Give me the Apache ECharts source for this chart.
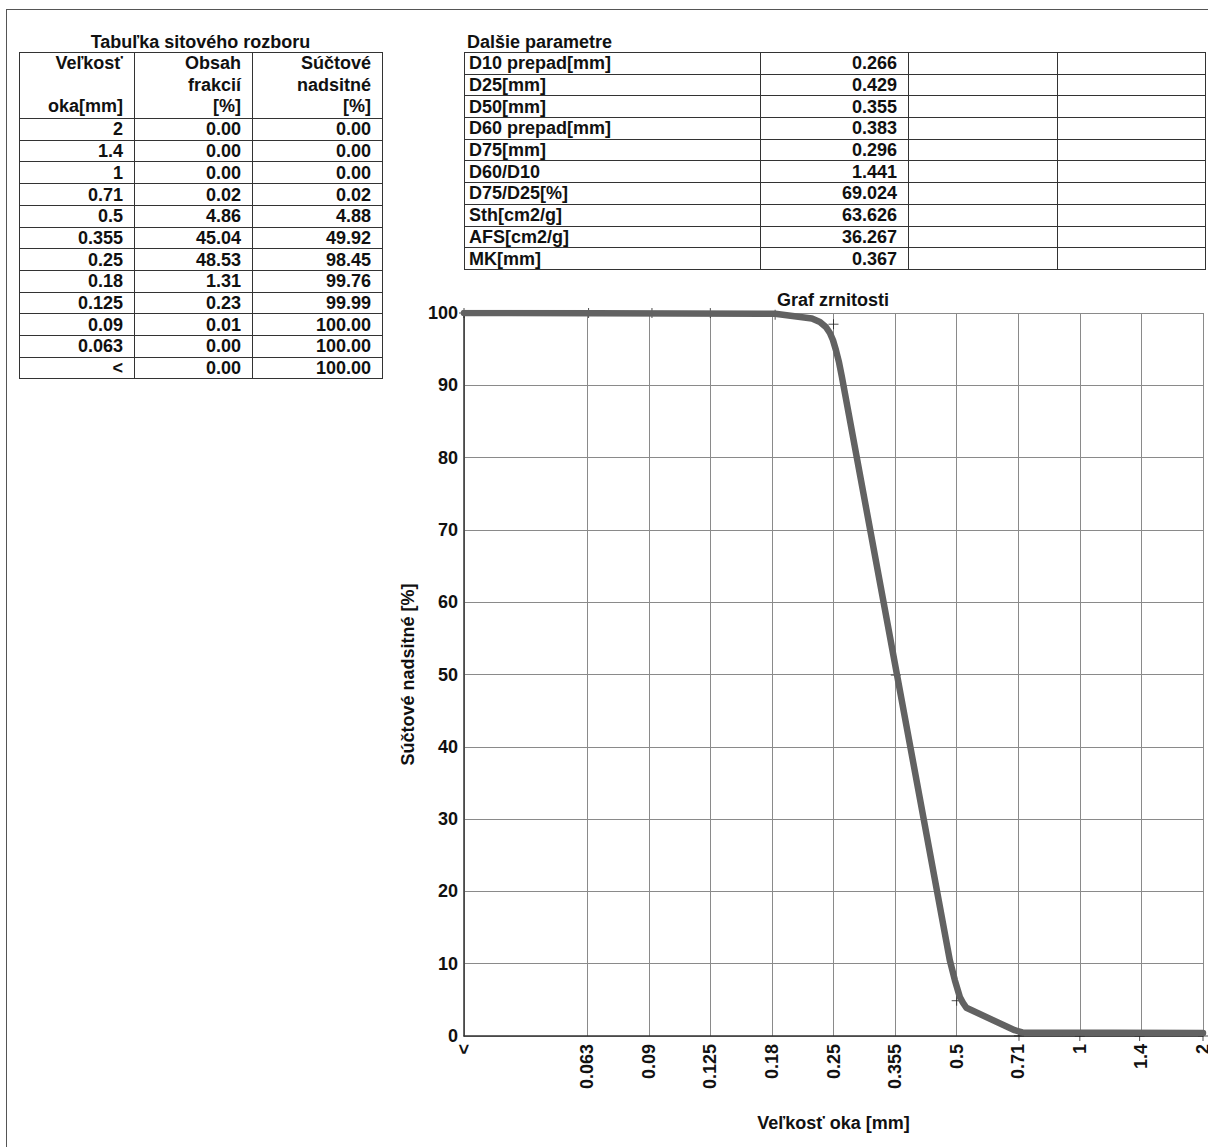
<!DOCTYPE html>
<html>
<head>
<meta charset="utf-8">
<script src="https://cdn.jsdelivr.net/npm/echarts@6/dist/echarts.min.js"></script>
<style>
html,body{margin:0;padding:0;background:#fff;}
#page{position:relative;width:1208px;height:1147px;overflow:hidden;font-family:"Liberation Sans",Arial,sans-serif;font-weight:bold;color:#111;}
#chart{position:absolute;left:0;top:0;width:1208px;height:1147px;}
.frame{position:absolute;left:6px;top:9px;width:1210px;height:1150px;border-top:1.5px solid #555;border-left:1.5px solid #555;}
.ttl{position:absolute;font-size:18px;line-height:20px;white-space:nowrap;}
table{position:absolute;border-collapse:collapse;font-size:18px;table-layout:fixed;}
td{border:1px solid #333;height:20.7px;padding:0;line-height:20px;white-space:nowrap;overflow:hidden;}
td.r{text-align:right;padding-right:11px;}
td.l{text-align:left;padding-left:4px;}
td.h{line-height:21.7px;vertical-align:top;}
</style>
</head>
<body>
<div id="page">
  <div class="frame"></div>
  <div id="chart"></div>
  <div class="ttl" id="t1" style="left:19px;top:32px;width:363px;text-align:center;"></div>
  <table id="sieveTable" style="left:19px;top:52px;width:363px;"></table>
  <div class="ttl" id="t2" style="left:467px;top:32px;"></div>
  <table id="paramTable" style="left:464px;top:52px;width:741px;"></table>
</div>
<script>
// ---------- data ----------
const sieveTitle = 'Tabuľka sitového rozboru';
const sieveHeader = [['Veľkosť', '', 'oka[mm]'], ['Obsah', 'frakcií', '[%]'], ['Súčtové', 'nadsitné', '[%]']];
const sieveLabels = ['2', '1.4', '1', '0.71', '0.5', '0.355', '0.25', '0.18', '0.125', '0.09', '0.063', '<'];
const fractionPct = [0.00, 0.00, 0.00, 0.02, 4.86, 45.04, 48.53, 1.31, 0.23, 0.01, 0.00, 0.00];
const cumulativePct = [0.00, 0.00, 0.00, 0.02, 4.88, 49.92, 98.45, 99.76, 99.99, 100.00, 100.00, 100.00];
// plotted mesh size (mm) of each row; the pan "<" sits at the left end of the axis
const sievePlotMm = [2, 1.4, 1, 0.71, 0.5, 0.355, 0.25, 0.18, 0.125, 0.09, 0.063, 0.03125];

const paramTitle = 'Dalšie parametre';
const paramNames = ['D10 prepad[mm]', 'D25[mm]', 'D50[mm]', 'D60 prepad[mm]', 'D75[mm]', 'D60/D10', 'D75/D25[%]', 'Sth[cm2/g]', 'AFS[cm2/g]', 'MK[mm]'];
const paramValues = ['0.266', '0.429', '0.355', '0.383', '0.296', '1.441', '69.024', '63.626', '36.267', '0.367'];

// x-axis tick labels (one slot left blank between "<" and 0.063)
const tickLabels = ['<', '', '0.063', '0.09', '0.125', '0.18', '0.25', '0.355', '0.5', '0.71', '1', '1.4', '2'];
const axisMinMm = 0.03125, axisMaxMm = 2;

// grading curve as drawn in the picture (mm, %)
const curveMm  = [0.03125, 0.18, 0.2214, 0.2316, 0.2395, 0.2450, 0.2492, 0.2534, 0.2578, 0.2621, 0.481, 0.495, 0.509, 0.518, 0.528, 0.693, 0.724, 2];
const curvePct = [100, 99.9, 99.24, 98.76, 98.06, 97.23, 96.27, 94.88, 93.22, 91.15, 10.5, 7.7, 5.4, 4.6, 3.9, 0.8, 0.5, 0.4];

const chartTitle = 'Graf zrnitosti';
const xName = 'Veľkosť oka [mm]';
const yName = 'Súčtové nadsitné [%]';

// ---------- tables ----------
document.getElementById('t1').textContent = sieveTitle;
document.getElementById('t2').textContent = paramTitle;

const st = document.getElementById('sieveTable');
const colW = [115, 118, 130];
let html = '<colgroup>' + colW.map(w => '<col style="width:' + w + 'px">').join('') + '</colgroup>';
html += '<tr>' + sieveHeader.map(lines => '<td class="r h" style="height:64px">' + lines.map(s => s || '&nbsp;').join('<br>') + '</td>').join('') + '</tr>';
sieveLabels.forEach((lab, i) => {
  html += '<tr><td class="r">' + (lab === '<' ? '&lt;' : lab) + '</td><td class="r">' + fractionPct[i].toFixed(2) + '</td><td class="r">' + cumulativePct[i].toFixed(2) + '</td></tr>';
});
st.innerHTML = html;

const pt = document.getElementById('paramTable');
const pW = [296, 148, 149, 148];
let ph = '<colgroup>' + pW.map(w => '<col style="width:' + w + 'px">').join('') + '</colgroup>';
paramNames.forEach((n, i) => {
  ph += '<tr><td class="l">' + n + '</td><td class="r">' + paramValues[i] + '</td><td></td><td></td></tr>';
});
pt.innerHTML = ph;

// ---------- chart ----------
const FONT = "'Liberation Sans', Arial, sans-serif";
const txt = {fontFamily: FONT, fontWeight: 'bold', fontSize: 18, color: '#111'};
const chart = echarts.init(document.getElementById('chart'), null, {renderer: 'svg'});
chart.setOption({
  animation: false,
  title: {text: chartTitle, left: 833, top: 291, textAlign: 'center', padding: 0, textStyle: txt},
  grid: {left: 464, top: 313, width: 739, height: 723, containLabel: false, outerBoundsMode: 'none'},
  xAxis: [{
    type: 'category', data: tickLabels, boundaryGap: false,
    axisLine: {lineStyle: {color: '#333', width: 1.5}},
    axisTick: {show: false},
    axisLabel: Object.assign({rotate: 90, interval: 0, margin: 8}, txt),
    splitLine: {show: true, interval: (i, v) => v !== '', lineStyle: {color: '#8a8a8a', width: 1}},
    name: xName, nameLocation: 'middle', nameGap: 78, nameTextStyle: txt
  }, {
    type: 'log', logBase: 2, min: axisMinMm, max: axisMaxMm, show: false, gridIndex: 0
  }],
  yAxis: {
    type: 'value', min: 0, max: 100, interval: 10,
    axisLine: {show: true, lineStyle: {color: '#333', width: 1.5}},
    axisTick: {show: false},
    axisLabel: Object.assign({margin: 6}, txt),
    splitLine: {show: true, lineStyle: {color: '#8a8a8a', width: 1}},
    name: yName, nameLocation: 'middle', nameGap: 37, nameRotate: 90, nameTextStyle: txt
  },
  series: [{
    type: 'scatter', xAxisIndex: 1, z: 2,
    data: sievePlotMm.map((x, i) => [x, cumulativePct[i]]),
    symbol: 'path://M0,-1L0,1M-1,0L1,0', symbolSize: 10,
    itemStyle: {color: 'transparent', borderColor: '#222', borderWidth: 1},
    silent: true
  }, {
    type: 'line', xAxisIndex: 1, z: 3,
    data: curveMm.map((x, i) => [x, curvePct[i]]),
    showSymbol: false, symbol: 'none',
    lineStyle: {color: '#626262', width: 6.5, join: 'round', cap: 'round'},
    silent: true
  }]
});
</script>
</body>
</html>
